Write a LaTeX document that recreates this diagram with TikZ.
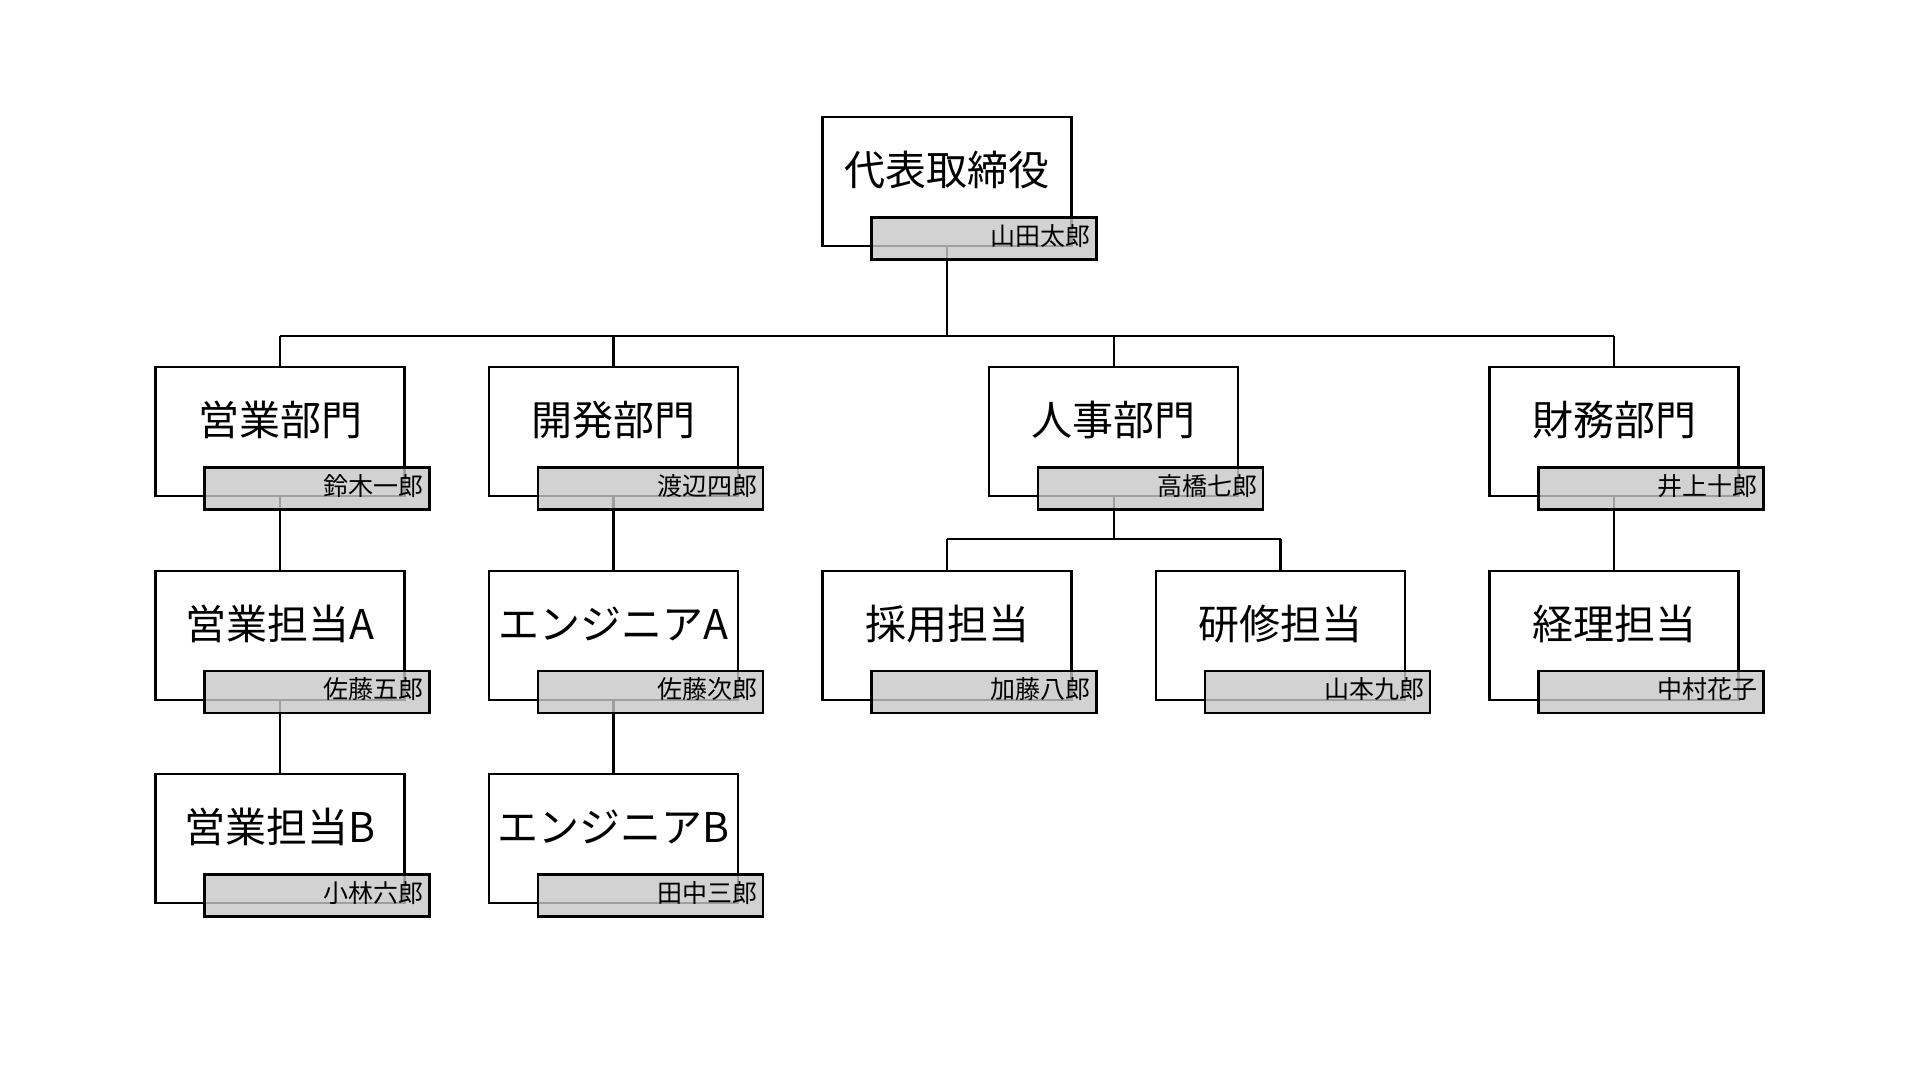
\documentclass[tikz,border=0pt]{standalone}
\usepackage{fontspec}
\setmainfont{Noto Sans CJK JP}
\newcommand\ttlfont{\fontsize{41pt}{41pt}\selectfont}
\newcommand\nmfont{\fontsize{25pt}{25pt}\selectfont}
\tikzset{
  box/.style={draw=black, line width=2.3pt, fill=white, minimum width=249pt, minimum height=129pt,
    inner sep=0pt, font=\ttlfont, text height=36pt, text depth=28pt, anchor=north},
  tag/.style={draw=black, line width=2.3pt, fill=black!22, fill opacity=0.8, draw opacity=1, text opacity=1,
    minimum height=42pt, text width=213pt, align=right, inner xsep=6pt, inner ysep=0pt,
    font=\nmfont, anchor=north east, xshift=25pt, yshift=31pt, text height=20pt, text depth=6pt},
  link/.style={line width=2.3pt, draw=black}
}
\begin{document}
\begin{tikzpicture}[x=1pt, y=-1pt]
\useasboundingbox[fill=white] (0,0) rectangle (1920,1080);
% boxes
\node[box] (k0) at (947,116) {代表取締役};
\node[box] (k1) at (280,366) {営業部門};
\node[box] (k2) at (613.5,366) {開発部門};
\node[box] (k3) at (1113.75,366) {人事部門};
\node[box] (k4) at (1614,366) {財務部門};
\node[box] (k5) at (280,569.5) {営業担当A};
\node[box] (k6) at (280,773) {営業担当B};
\node[box] (k7) at (613.5,569.5) {エンジニアA};
\node[box] (k8) at (613.5,773) {エンジニアB};
\node[box] (k9) at (947,569.5) {採用担当};
\node[box] (k10) at (1280.5,569.5) {研修担当};
\node[box] (k11) at (1614,569.5) {経理担当};
% junctions
\coordinate (j0) at (947,336);
\coordinate (j3) at (1113.75,539);
% connectors
\draw[link] (k0.south) -- (j0);
\draw[link] (j0 -| k1.north) -- (j0 -| k4.north);
\foreach \c in {k1,k2,k3,k4}{\draw[link] (j0 -| \c.north) -- (\c.north);}
\draw[link] (k1.south) -- (k5.north);
\draw[link] (k5.south) -- (k6.north);
\draw[link] (k2.south) -- (k7.north);
\draw[link] (k7.south) -- (k8.north);
\draw[link] (k4.south) -- (k11.north);
\draw[link] (k3.south) -- (j3);
\draw[link] (j3 -| k9.north) -- (j3 -| k10.north);
\draw[link] (j3 -| k9.north) -- (k9.north);
\draw[link] (j3 -| k10.north) -- (k10.north);
% name tags
\node[tag, at=(k0.south east)] (t0) {山田太郎};
\node[tag, at=(k1.south east)] (t1) {鈴木一郎};
\node[tag, at=(k2.south east)] (t2) {渡辺四郎};
\node[tag, at=(k3.south east)] (t3) {高橋七郎};
\node[tag, at=(k4.south east)] (t4) {井上十郎};
\node[tag, at=(k5.south east)] (t5) {佐藤五郎};
\node[tag, at=(k6.south east)] (t6) {小林六郎};
\node[tag, at=(k7.south east)] (t7) {佐藤次郎};
\node[tag, at=(k8.south east)] (t8) {田中三郎};
\node[tag, at=(k9.south east)] (t9) {加藤八郎};
\node[tag, at=(k10.south east)] (t10) {山本九郎};
\node[tag, at=(k11.south east)] (t11) {中村花子};
\end{tikzpicture}
\end{document}
